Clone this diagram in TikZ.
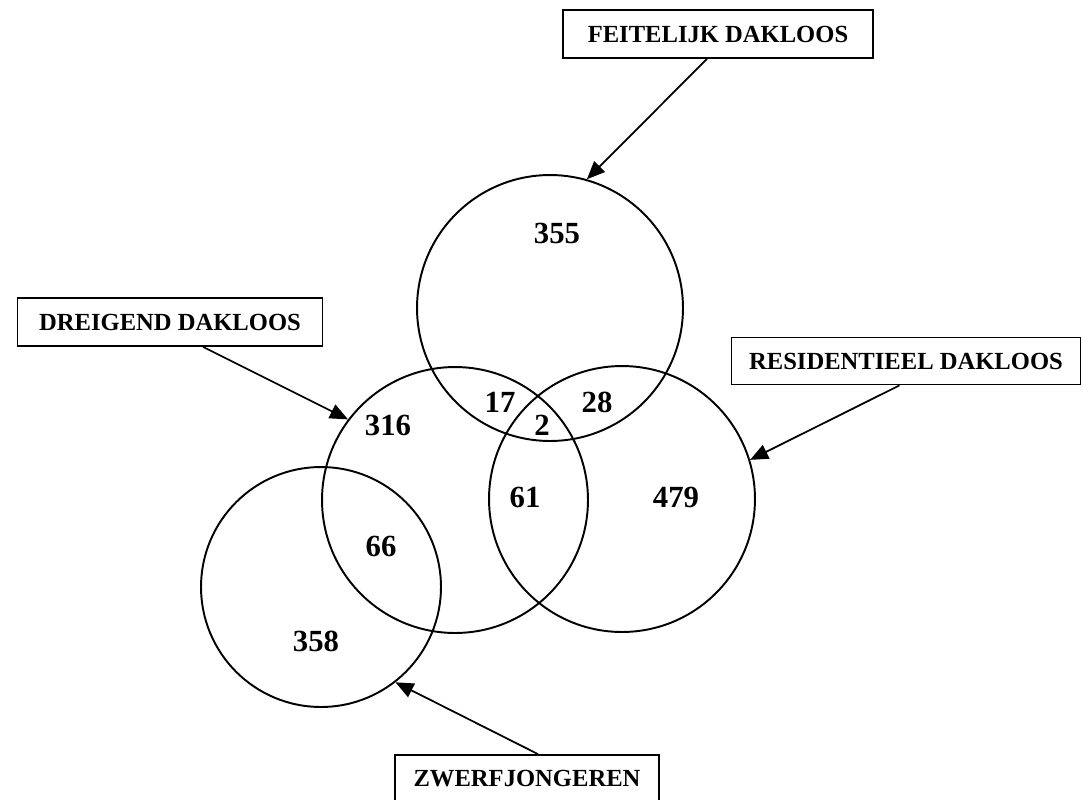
\documentclass[tikz,border=0pt]{standalone}
\usepackage{fontspec}
\setmainfont{Liberation Serif}
\usetikzlibrary{arrows.meta}

\tikzset{
  setcircle/.style={circle,draw,line width=1.1pt,inner sep=0pt,minimum size=#1},
  setbox/.style={draw,line width=1pt,inner sep=0pt,minimum height=0.96cm,font=\fontsize{14}{16}\selectfont\bfseries},
  countnum/.style={inner sep=0pt,font=\fontsize{17.5}{20}\selectfont\bfseries},
  pointer/.style={-{Triangle[length=0.36cm,width=0.3cm]},line width=1pt}
}

\begin{document}
\begin{tikzpicture}[x=0.02cm,y=-0.02cm]
\useasboundingbox (0,0) rectangle (1083,799);
\clip (0,0) rectangle (1083,799);

\node[setcircle=5.32cm] (fc) at (550,308) {};
\node[setcircle=5.32cm] (dc) at (455,500) {};
\node[setcircle=5.32cm] (rc) at (622,499) {};
\node[setcircle=4.8cm] (zc) at (321,587) {};

\node[setbox,minimum width=6.2cm] (feit) at (718,34) {FEITELIJK DAKLOOS};
\node[setbox,minimum width=6.1cm] (dreig) at (170,322) {DREIGEND DAKLOOS};
\node[setbox,minimum width=6.98cm,minimum height=0.94cm] (resid) at (906,361) {RESIDENTIEEL DAKLOOS};
\node[setbox,minimum width=5.28cm] (zwerf) at (527,779) {ZWERFJONGEREN};

\draw[pointer] ([xshift=-0.22cm]feit.south) -- (fc.74);
\draw[pointer] ([xshift=0.66cm]dreig.south) -- (dc.143);
\draw[pointer] ([xshift=-0.13cm]resid.south) -- (rc.17);
\draw[pointer] ([xshift=0.22cm]zwerf.north) -- (zc.-52);

\node[countnum] (n355) at (557,233) {355};
\node[countnum] (n17) at (500,402) {17};
\node[countnum] (n2) at (542,425) {2};
\node[countnum] (n28) at (597,402) {28};
\node[countnum] (n316) at (388,425) {316};
\node[countnum] (n61) at (525,497) {61};
\node[countnum] (n479) at (676,497) {479};
\node[countnum] (n66) at (381,546) {66};
\node[countnum] (n358) at (316,641) {358};
\end{tikzpicture}
\end{document}
